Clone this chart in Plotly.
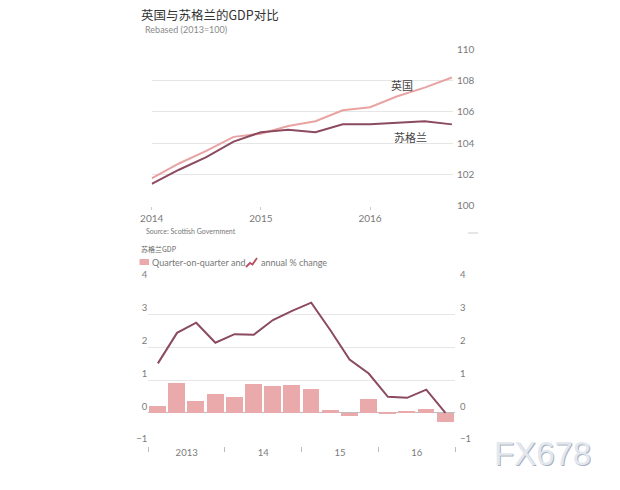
import plotly.graph_objects as go

W, H = 620, 490

# ---- data ----
quarters_top = [2014.0, 2014.25, 2014.5, 2014.75, 2015.0, 2015.25, 2015.5, 2015.75,
                2016.0, 2016.25, 2016.5, 2016.75]
uk_gdp = [101.75, 102.7, 103.5, 104.4, 104.6, 105.1, 105.4, 106.1, 106.3, 107.0, 107.55, 108.2]
scot_gdp = [101.4, 102.3, 103.1, 104.1, 104.7, 104.85, 104.7, 105.2, 105.2, 105.3, 105.4, 105.2]
top_yticks = [100, 102, 104, 106, 108, 110]
top_xticks = [2014, 2015, 2016]

q_index = list(range(16))  # 2013 Q1 .. 2016 Q4
qoq_change = [0.21, 0.92, 0.37, 0.59, 0.49, 0.90, 0.82, 0.86, 0.74, 0.11, -0.10, 0.44,
              0.01, 0.08, 0.13, -0.26]
annual_change = [1.51, 2.44, 2.75, 2.14, 2.40, 2.38, 2.83, 3.11, 3.36, 2.52, 1.63, 1.20,
                 0.49, 0.46, 0.71, 0.0]
year_label_pos = [1.5, 5.5, 9.5, 13.5]
year_labels = ["2013", "14", "15", "16"]
bottom_yticks = [-1, 0, 1, 2, 3, 4]

# ---- styles ----
FONT = "Lato, Noto Sans, Noto Sans CJK SC, sans-serif"
CJK = "Noto Sans CJK SC, Noto Sans, sans-serif"
GRID = "#e6e6e6"
TICKC = "#7a7a7a"
UK_C = "#e8a3a2"
SCOT_C = "#8b4a5d"
BAR_C = "#eaaaab"


def px(x):
    return x / W


def py(y):
    return 1 - y / H


fig = go.Figure()

fig.add_trace(go.Scatter(x=quarters_top, y=uk_gdp, mode="lines",
                         line=dict(color=UK_C, width=2), xaxis="x", yaxis="y",
                         showlegend=False))
fig.add_trace(go.Scatter(x=quarters_top, y=scot_gdp, mode="lines",
                         line=dict(color=SCOT_C, width=2), xaxis="x", yaxis="y",
                         showlegend=False))

fig.add_trace(go.Bar(x=q_index, y=qoq_change, marker=dict(color=BAR_C, line=dict(width=0)),
                     width=0.88, xaxis="x2", yaxis="y2", showlegend=False))
fig.add_trace(go.Scatter(x=q_index, y=annual_change, mode="lines",
                         line=dict(color=SCOT_C, width=2), xaxis="x2", yaxis="y2",
                         showlegend=False))
# invisible trace for right-side mirror axis
fig.add_trace(go.Scatter(x=[q_index[0]], y=[0], mode="markers", marker=dict(opacity=0),
                         xaxis="x2", yaxis="y3", showlegend=False, hoverinfo="skip"))

fig.update_layout(
    width=W, height=H,
    autosize=False,
    margin=dict(l=0, r=0, t=0, b=0, pad=0),
    paper_bgcolor="white", plot_bgcolor="white",
    font=dict(family=FONT, color=TICKC, size=9),
    bargap=0,
    xaxis=dict(domain=[px(151.7), px(453)], range=[2014, 2016.76], automargin=False,
               tickvals=top_xticks, ticktext=[str(v) for v in top_xticks],
               showgrid=False, zeroline=False, showline=False,
               ticks="outside", ticklen=3, tickcolor="#cccccc",
               tickfont=dict(size=10, color=TICKC), anchor="y"),
    yaxis=dict(domain=[py(205.7), py(49.3)], range=[100, 110], side="right",
               automargin=False,
               tickvals=top_yticks, showgrid=True, gridcolor=GRID, gridwidth=1,
               zeroline=False, showline=False, ticks="", ticklabelstandoff=3,
               tickfont=dict(size=10, color=TICKC), anchor="x"),
    xaxis2=dict(domain=[px(148.3), px(455)], range=[-0.5, 15.5], automargin=False,
                tickvals=year_label_pos, ticktext=year_labels, ticks="",
                showgrid=False, zeroline=False, showline=False,
                minor=dict(tick0=-0.5, dtick=4, ticks="outside", ticklen=5,
                           tickcolor="#bbbbbb", showgrid=False),
                tickfont=dict(size=9.5, color=TICKC), anchor="y2"),
    yaxis2=dict(domain=[py(445.7), py(281.7)], range=[-1, 4], side="left",
                automargin=False,
                tickvals=bottom_yticks, showgrid=True, gridcolor=GRID,
                zeroline=True, zerolinecolor="#bdbdbd", zerolinewidth=1,
                showline=False, ticks="",
                ticklabelposition="outside top",
                tickfont=dict(size=9.5, color=TICKC), anchor="x2"),
    yaxis3=dict(domain=[py(445.7), py(281.7)], range=[-1, 4], side="right",
                automargin=False,
                overlaying="y2", tickvals=bottom_yticks, showgrid=False,
                zeroline=False, showline=False, ticks="", ticklabelstandoff=4,
                ticklabelposition="outside top",
                tickfont=dict(size=9.5, color=TICKC), anchor="x2"),
)

annotations = [
    dict(text="英国与苏格兰的GDP对比", x=px(139), y=py(14), xanchor="left", yanchor="middle",
         font=dict(size=12.5, color="#333333", family=CJK)),
    dict(text="Rebased (2013=100)", x=px(143), y=py(30), xanchor="left", yanchor="middle",
         font=dict(size=9, color="#8a8a8a")),
    dict(text="英国", x=px(402), y=py(85), xanchor="center", yanchor="middle",
         font=dict(size=11, color="#444444", family=CJK)),
    dict(text="苏格兰", x=px(410), y=py(136.5), xanchor="center", yanchor="middle",
         font=dict(size=11, color="#444444", family=CJK)),
    dict(text="Source: Scottish Government", x=px(143.5), y=py(230.5), xanchor="left",
         yanchor="middle", font=dict(size=7, color="#777777")),
    dict(text="苏格兰GDP", x=px(139), y=py(248.5), xanchor="left", yanchor="middle",
         font=dict(size=7, color="#666666", family=CJK)),
    dict(text="Quarter-on-quarter and", x=px(150), y=py(262), xanchor="left",
         yanchor="middle", font=dict(size=9, color="#777777")),
    dict(text="annual % change", x=px(258.5), y=py(262), xanchor="left",
         yanchor="middle", font=dict(size=9, color="#777777")),
    # watermark
    dict(text="FX678", x=px(542), y=py(453), xanchor="center", yanchor="middle",
         font=dict(size=33, color="#a9b2bf", family="Liberation Sans, Arial"),
         xshift=1, yshift=-1),
    dict(text="FX678", x=px(542), y=py(453), xanchor="center", yanchor="middle",
         font=dict(size=33, color="#e3e8ef", family="Liberation Sans, Arial")),
]
for a in annotations:
    a.update(xref="paper", yref="paper", showarrow=False)
fig.update_layout(annotations=annotations)


def pth(points):
    return "M " + " L ".join(f"{px(x)},{py(y)}" for x, y in points)


shapes = [
    # legend swatch
    dict(type="rect", xref="paper", yref="paper", x0=px(139.5), x1=px(149), y0=py(265),
         y1=py(259), fillcolor=BAR_C, line=dict(width=0)),
    # legend line icon
    dict(type="path", xref="paper", yref="paper",
         path=pth([(246, 267), (250, 263), (252.5, 264.5), (257, 258)]),
         line=dict(color="#b8505f", width=1.8)),
    # small decorative dash at right
    dict(type="line", xref="paper", yref="paper", x0=px(468), x1=px(478), y0=py(233),
         y1=py(233), line=dict(color="#cccccc", width=1)),
]
fig.update_layout(shapes=shapes)

fig.write_html("out.html")
